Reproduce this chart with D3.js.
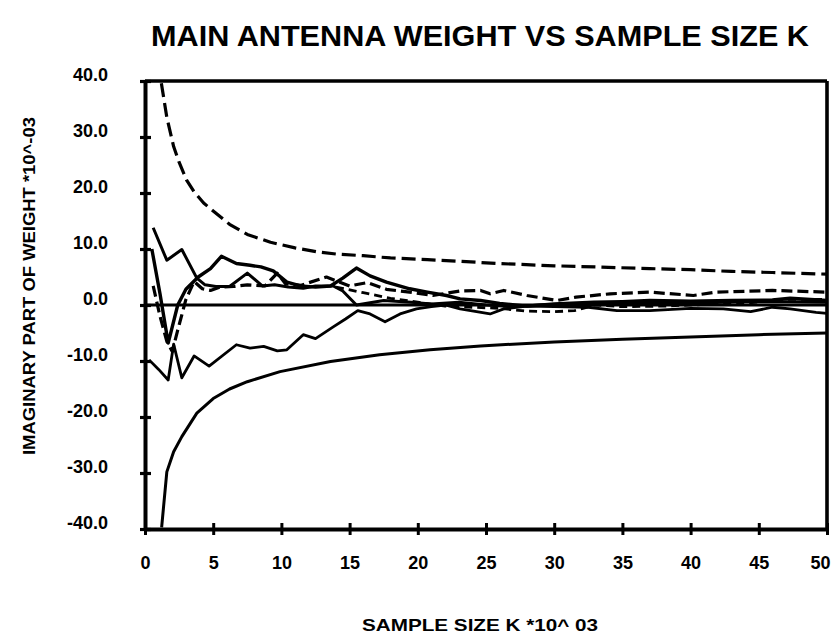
<!DOCTYPE html>
<html>
<head>
<meta charset="utf-8">
<script src="https://cdn.jsdelivr.net/npm/d3@7"></script>
<style>
  body { margin: 0; background: #fff; }
  text { font-family: "Liberation Sans", Arial, Helvetica, sans-serif; font-weight: bold; fill: #000; }
</style>
</head>
<body>
<div id="vis"></div>
<script>
// declare constants
const FRAME_WIDTH = 835;
const FRAME_HEIGHT = 634;
const MARGINS = {left: 145, right: 8, top: 81, bottom: 105};

const VIS_WIDTH = FRAME_WIDTH - MARGINS.left - MARGINS.right;
const VIS_HEIGHT = FRAME_HEIGHT - MARGINS.top - MARGINS.bottom;

// data: [sample size k (x10^3), imaginary part (x10^-3)]
const X_TICKS = [0, 5, 10, 15, 20, 25, 30, 35, 40, 45, 50];
const Y_TICKS = [40, 30, 20, 10, 0, -10, -20, -30, -40];

const UPPER_BOUND = [[1.2, 39.6], [1.6, 33.5], [2.1, 28.3], [2.5, 25.5], [3.05, 22.3], [3.6, 20.2],
  [4.3, 18.2], [5, 16.8], [6.2, 14.4], [7.5, 12.6], [9.2, 11.2], [11, 10.2], [12.6, 9.5],
  [14, 9.1], [16, 8.8], [18, 8.4], [20.7, 8.1], [23.1, 7.8], [26, 7.4], [30, 7.0],
  [33, 6.8], [37, 6.5], [40, 6.3], [43, 6.0], [46, 5.8], [50, 5.5]];

const LOWER_BOUND = [[1.22, -39.7], [1.6, -29.8], [2.1, -26.2], [2.7, -23.5], [3.8, -19.3], [5, -16.7],
  [6.2, -15.0], [7.5, -13.7], [9.9, -11.9], [13.6, -10.1], [17.2, -8.9], [20.9, -8.0],
  [24.6, -7.3], [30, -6.6], [35, -6.1], [40, -5.7], [45, -5.3], [50, -5.0]];

const SERIES_S1 = [[0.6, 13.8], [1.6, 8.0], [2.7, 9.9], [3.8, 4.8], [4.4, 3.6], [5.2, 3.3], [6.2, 3.3],
  [7.5, 5.7], [8.6, 3.4], [9.5, 3.6], [10.5, 3.2], [11.6, 3.0], [12.5, 3.4], [13.8, 3.4],
  [14.5, 2.5], [15.5, 0.0], [17.5, 0.8], [19.5, 0.5], [21, 0.2], [23, 0.5], [25, 0.0],
  [27, -0.3], [29, 0.0], [31, 0.2], [33, 0.3], [35, 0.3], [38, 0.5], [41, 0.4], [44, 0.6],
  [47, 0.6], [50, 0.5]];

const SERIES_S2 = [[0.5, 10.0], [1.1, 2.0], [1.7, -6.8], [2.4, 0.0], [3.0, 2.8], [3.9, 5.0], [4.8, 6.5],
  [5.6, 8.7], [6.7, 7.4], [7.7, 7.1], [8.5, 6.8], [9.4, 6.1], [10.4, 4.1], [11.4, 3.4],
  [12.5, 3.2], [13.6, 3.4], [14.5, 4.8], [15.5, 6.6], [16.5, 5.2], [17.7, 4.1], [19.4, 2.9],
  [20.7, 2.3], [22.1, 1.7], [23.1, 1.1], [24.6, 0.8], [26, 0.3], [28, -0.2], [30, 0.2],
  [32.9, 0.5], [35, 0.6], [37, 0.8], [40, 0.7], [43, 0.8], [46, 0.9], [47.3, 1.2], [50, 0.8]];

const SERIES_S3 = [[0.3, -9.8], [1.0, -11.5], [1.7, -13.4], [2.1, -7.0], [2.7, -13.0], [3.6, -9.1],
  [4.7, -10.9], [6.7, -7.1], [7.7, -7.7], [8.7, -7.4], [9.7, -8.2], [10.4, -8.0], [11.6, -5.3],
  [12.5, -6.0], [13.8, -3.9], [14.7, -2.5], [15.6, -1.0], [16.5, -1.6], [17.6, -3.0],
  [18.7, -1.6], [19.9, -0.7], [21, -0.3], [22, 0.0], [23.1, -0.7], [25.3, -1.6], [26.3, -0.7],
  [28, -0.2], [30, -0.3], [32.5, -0.4], [34.6, -1.0], [37, -1.0], [40, -0.6],
  [42.4, -0.7], [44.4, -1.2], [46, -0.4], [47.3, -0.7], [49.2, -1.3], [50, -1.5]];

const SERIES_D1 = [[0.6, 3.4], [1.1, -2.0], [1.6, -6.5], [2.0, -8.3], [2.4, -4.5], [3.0, 1.0],
  [3.6, 4.2], [4.2, 2.9], [4.8, 2.6], [5.5, 3.2], [6.5, 3.3], [7.5, 3.6], [8.8, 3.4], [9.7, 5.7],
  [10.3, 3.8], [11.4, 3.5], [13.3, 5.0], [15, 3.4], [16.3, 4.0], [17.7, 2.8], [19.4, 2.3],
  [21.1, 1.7], [23.1, 2.5], [24.6, 2.6], [25.3, 2.0], [26.3, 2.6], [28, 1.7], [30.2, 0.8],
  [31.6, 1.4], [34.1, 2.0], [37, 2.3], [40.2, 1.7], [41.9, 2.3], [46, 2.6], [50, 2.3]];

const SERIES_D2 = [[14, 3.2], [16, 2.2], [18, 1.2], [20, 0.5], [22, -0.2], [24, -0.4], [26, -0.6],
  [28, -1.1], [30, -1.2], [31.5, -1.0], [33, 0.0], [35, -0.3], [38, -0.2], [41, 0.1],
  [44, 0.3], [47, 1.0], [50, 1.0]];

// frame
const SVG = d3.select("#vis")
  .append("svg")
    .attr("width", FRAME_WIDTH)
    .attr("height", FRAME_HEIGHT);

// scaling
const X_SCALE = d3.scaleLinear()
                  .domain([0, 50])
                  .range([MARGINS.left, MARGINS.left + VIS_WIDTH]);
const Y_SCALE = d3.scaleLinear()
                  .domain([-40, 40])
                  .range([MARGINS.top + VIS_HEIGHT, MARGINS.top]);

// clip so the steep bound curves stop at the frame
SVG.append("clipPath")
    .attr("id", "plot-clip")
  .append("rect")
    .attr("x", MARGINS.left)
    .attr("y", MARGINS.top)
    .attr("width", VIS_WIDTH)
    .attr("height", VIS_HEIGHT);

const LINE = d3.line()
               .x((d) => {return X_SCALE(d[0])})
               .y((d) => {return Y_SCALE(d[1])});

const PLOT = SVG.append("g").attr("clip-path", "url(#plot-clip)");

// zero reference line
PLOT.append("line")
    .attr("x1", X_SCALE(0))
    .attr("x2", X_SCALE(50))
    .attr("y1", Y_SCALE(0))
    .attr("y2", Y_SCALE(0))
    .attr("stroke", "#000")
    .attr("stroke-width", 2.8);

const SERIES = [
  {data: UPPER_BOUND, dash: "14,6", width: 3.2},
  {data: LOWER_BOUND, dash: null, width: 3},
  {data: SERIES_S1, dash: null, width: 3},
  {data: SERIES_S2, dash: null, width: 3.4},
  {data: SERIES_S3, dash: null, width: 2.8},
  {data: SERIES_D1, dash: "11,5", width: 3.2},
  {data: SERIES_D2, dash: "8,5", width: 2.8}
];

PLOT.selectAll(".series")
    .data(SERIES)
    .enter()
    .append("path")
      .attr("class", "series")
      .attr("d", (d) => {return LINE(d.data)})
      .attr("fill", "none")
      .attr("stroke", "#000")
      .attr("stroke-width", (d) => {return d.width})
      .attr("stroke-linejoin", "round")
      .attr("stroke-dasharray", (d) => {return d.dash});

// frame lines (top and right)
SVG.append("line")
    .attr("x1", X_SCALE(0)).attr("x2", X_SCALE(50))
    .attr("y1", Y_SCALE(40)).attr("y2", Y_SCALE(40))
    .attr("stroke", "#000").attr("stroke-width", 3.6);
SVG.append("line")
    .attr("x1", X_SCALE(50)).attr("x2", X_SCALE(50))
    .attr("y1", Y_SCALE(40)).attr("y2", Y_SCALE(-40))
    .attr("stroke", "#000").attr("stroke-width", 3.6);

// x axis
const X_AXIS = SVG.append("g")
    .attr("transform", "translate(0," + Y_SCALE(-40) + ")")
    .call(d3.axisBottom(X_SCALE)
            .tickValues(X_TICKS)
            .tickSizeInner(6)
            .tickSizeOuter(0)
            .tickPadding(21));
X_AXIS.select(".domain").attr("stroke-width", 4);
X_AXIS.selectAll(".tick line")
    .attr("y1", -6)
    .attr("stroke-width", 3);
X_AXIS.selectAll(".tick text")
    .attr("font-size", "18px")
    .attr("font-family", "'Liberation Sans', Arial, sans-serif")
    .attr("font-weight", "bold")
    .attr("dx", (d) => {return d === 50 ? "-7px" : "0px"});

// y axis
const Y_AXIS = SVG.append("g")
    .attr("transform", "translate(" + X_SCALE(0) + ",0)")
    .call(d3.axisLeft(Y_SCALE)
            .tickValues(Y_TICKS)
            .tickFormat(d3.format(".1f"))
            .tickSizeInner(5)
            .tickSizeOuter(0)
            .tickPadding(32));
Y_AXIS.select(".domain").attr("stroke-width", 4);
Y_AXIS.selectAll(".tick line")
    .attr("x2", 6)
    .attr("x1", -5)
    .attr("stroke-width", 3.2);
Y_AXIS.selectAll(".tick text")
    .attr("font-size", "18px")
    .attr("font-family", "'Liberation Sans', Arial, sans-serif")
    .attr("font-weight", "bold")
    .attr("dy", "-0.02em")
    .text((d) => {return d3.format(".1f")(d).replace("\u2212", "-")});

// title
SVG.append("text")
    .attr("x", 480)
    .attr("y", 46)
    .attr("text-anchor", "middle")
    .attr("font-size", "30px")
    .attr("textLength", 658)
    .attr("lengthAdjust", "spacingAndGlyphs")
    .text("MAIN ANTENNA WEIGHT VS SAMPLE SIZE K");

// axis labels
SVG.append("text")
    .attr("x", 480)
    .attr("y", 631)
    .attr("text-anchor", "middle")
    .attr("font-size", "17px")
    .attr("textLength", 236)
    .attr("lengthAdjust", "spacingAndGlyphs")
    .text("SAMPLE SIZE K  *10^ 03");

SVG.append("text")
    .attr("transform", "translate(35,286) rotate(-90)")
    .attr("text-anchor", "middle")
    .attr("font-size", "17px")
    .attr("textLength", 338)
    .attr("lengthAdjust", "spacingAndGlyphs")
    .text("IMAGINARY PART OF WEIGHT  *10^-03");
</script>
</body>
</html>
